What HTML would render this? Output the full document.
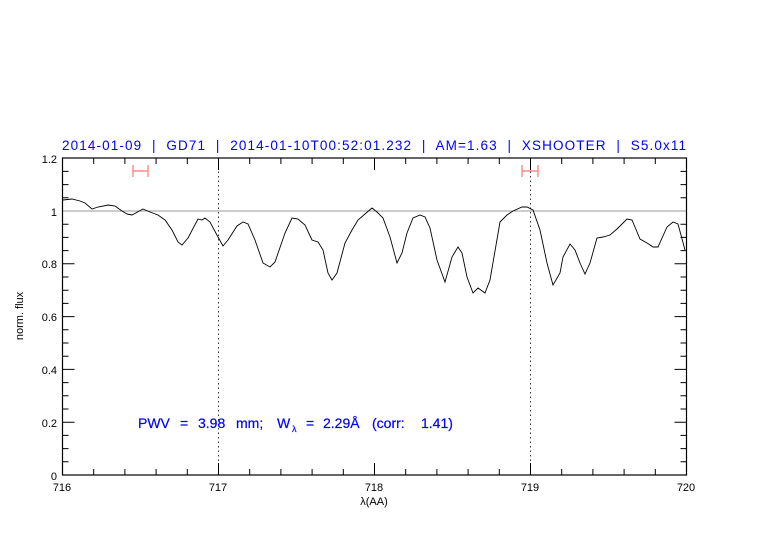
<!DOCTYPE html>
<html><head><meta charset="utf-8"><style>body{margin:0;background:#fff}svg{display:block}</style></head><body>
<svg width="782" height="542" xmlns="http://www.w3.org/2000/svg" font-family="Liberation Sans, sans-serif">
<rect width="782" height="542" fill="#fff"/>
<g stroke="#000" stroke-width="1">
<path d="M93.7,475v-6M124.9,475v-6M156.1,475v-6M187.3,475v-6M249.7,475v-6M280.9,475v-6M312.1,475v-6M343.3,475v-6M405.7,475v-6M436.9,475v-6M468.1,475v-6M499.3,475v-6M561.7,475v-6M592.9,475v-6M624.1,475v-6M655.3,475v-6
M218.5,475v-12M374.5,475v-12M530.5,475v-12
M93.7,158v6M124.9,158v6M156.1,158v6M187.3,158v6M249.7,158v6M280.9,158v6M312.1,158v6M343.3,158v6M405.7,158v6M436.9,158v6M468.1,158v6M499.3,158v6M561.7,158v6M592.9,158v6M624.1,158v6M655.3,158v6
M218.5,158v12M374.5,158v12M530.5,158v12"/>
<path d="M62.5,461.8h6M62.5,448.6h6M62.5,435.4h6M62.5,409h6M62.5,395.8h6M62.5,382.6h6M62.5,356.2h6M62.5,343h6M62.5,329.8h6M62.5,303.4h6M62.5,290.2h6M62.5,277h6M62.5,250.6h6M62.5,237.4h6M62.5,224.2h6M62.5,197.8h6M62.5,184.6h6M62.5,171.4h6
M62.5,422.2h12M62.5,369.4h12M62.5,316.6h12M62.5,263.8h12M62.5,211h12"/>
<path d="M686.5,461.8h-6M686.5,448.6h-6M686.5,435.4h-6M686.5,409h-6M686.5,395.8h-6M686.5,382.6h-6M686.5,356.2h-6M686.5,343h-6M686.5,329.8h-6M686.5,303.4h-6M686.5,290.2h-6M686.5,277h-6M686.5,250.6h-6M686.5,237.4h-6M686.5,224.2h-6M686.5,197.8h-6M686.5,184.6h-6M686.5,171.4h-6
M686.5,422.2h-12M686.5,369.4h-12M686.5,316.6h-12M686.5,263.8h-12M686.5,211h-12"/>
</g>
<line x1="218.5" y1="158" x2="218.5" y2="475" stroke="#000" stroke-dasharray="1.5,3" stroke-width="0.8"/>
<line x1="530.5" y1="158" x2="530.5" y2="475" stroke="#000" stroke-dasharray="1.5,3" stroke-width="0.8"/>
<line x1="62.5" y1="211" x2="686.5" y2="211" stroke="#999" stroke-width="1"/>
<g stroke="#f77" stroke-width="1.2" fill="none">
<path d="M133,171h15M133,165v12M148,165v12"/>
<path d="M522,171h16M522,165v12M538,165v12"/>
</g>
<polyline fill="none" stroke="#000" stroke-width="0.9" points="63,200 72,199 80,201 85,203 92,209 98,207 108,205 115,206 122,211 127,214 132,215 143,209 150,212 158,215 165,220 172,230 178,242 182,245 188,238 198,219 202,220 205,218 210,222 218,237 223,246 228,240 237,226 243,222 248,224 255,240 263,263 270,267 275,262 285,233 292,218 298,219 305,225 312,240 318,242 323,250 328,273 332,280 337,273 345,243 352,230 358,220 372,208 377,212 383,218 390,237 397,263 402,253 407,233 413,218 420,215 425,217 430,228 437,260 445,282 452,257 458,247 462,253 467,277 473,293 478,288 485,293 490,280 500,222 507,215 513,211 522,207 527,207 533,210 540,230 547,263 553,285 560,273 563,257 570,244 575,250 580,263 585,274 590,263 597,238 603,237 610,235 617,229 627,219 632,220 640,239 647,243 653,247 658,247 667,227 673,222 678,224 685,250"/>
<rect x="62.5" y="158" width="624" height="317" fill="none" stroke="#000" stroke-width="1.2"/>
<g font-size="11" fill="#000">
<g text-anchor="middle"><text x="62" y="491">716</text><text x="218" y="491">717</text><text x="374" y="491">718</text><text x="530" y="491">719</text><text x="686" y="491">720</text></g>
<g text-anchor="end"><text x="57" y="480">0</text><text x="57" y="427">0.2</text><text x="57" y="374">0.4</text><text x="57" y="321">0.6</text><text x="57" y="268">0.8</text><text x="57" y="216">1</text><text x="57" y="163">1.2</text></g>
<text x="374" y="505" text-anchor="middle">λ(AA)</text>
<text transform="translate(23,316) rotate(-90)" text-anchor="middle">norm. flux</text>
</g>
<text x="62" y="150" font-size="13.5" fill="#0000ff" textLength="624" lengthAdjust="spacing" xml:space="preserve">2014-01-09  |  GD71  |  2014-01-10T00:52:01.232  |  AM=1.63  |  XSHOOTER  |  S5.0x11</text>
<g fill="#0000ff" font-size="14" stroke="#0000ff" stroke-width="0.2">
<text x="138" y="428">PWV</text>
<text x="180" y="428">=</text>
<text x="198" y="428">3.98</text>
<text x="236" y="428">mm;</text>
<text x="277" y="428">W</text>
<text x="292" y="432" font-size="9">λ</text>
<text x="306" y="428">=</text>
<text x="323" y="428">2.29Å</text>
<text x="372" y="428">(corr:</text>
<text x="421" y="428">1.41)</text>
</g>
</svg>
</body></html>
